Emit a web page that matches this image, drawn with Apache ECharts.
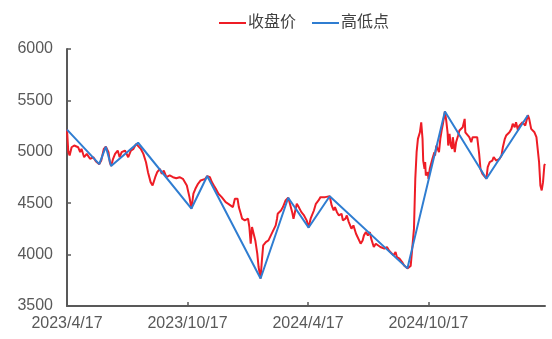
<!DOCTYPE html>
<html>
<head>
<meta charset="utf-8">
<script src="https://cdn.jsdelivr.net/npm/echarts@6/dist/echarts.min.js"></script>
<style>
html,body{margin:0;padding:0;background:#fff;}
#chart{width:552px;height:339px;}
</style>
</head>
<body>
<div id="chart"></div>
<script>
const closeDates = [
'2023-04-17','2023-04-19','2023-04-21','2023-04-24','2023-04-28','2023-05-04','2023-05-07','2023-05-09','2023-05-13','2023-05-17',
'2023-05-22','2023-05-27','2023-05-31','2023-06-05','2023-06-08','2023-06-12','2023-06-15','2023-06-19','2023-06-21','2023-06-23',
'2023-06-26','2023-06-29','2023-07-03','2023-07-06','2023-07-09','2023-07-14','2023-07-19','2023-07-23','2023-07-27','2023-07-31',
'2023-08-03','2023-08-07','2023-08-11','2023-08-15','2023-08-18','2023-08-22','2023-08-25','2023-08-29','2023-09-01','2023-09-05',
'2023-09-08','2023-09-11','2023-09-15','2023-09-20','2023-09-25','2023-09-30','2023-10-05','2023-10-10','2023-10-16','2023-10-20',
'2023-10-23','2023-10-26','2023-10-29','2023-10-31','2023-11-02','2023-11-06','2023-11-09','2023-11-13','2023-11-16','2023-11-20',
'2023-11-23','2023-11-26','2023-11-29','2023-12-03','2023-12-05','2023-12-08','2023-12-11','2023-12-14','2023-12-18','2023-12-21',
'2023-12-25','2023-12-28','2024-01-01','2024-01-03','2024-01-06','2024-01-08','2024-01-12','2024-01-14','2024-01-17','2024-01-19',
'2024-01-21','2024-01-23','2024-01-25','2024-01-28','2024-01-31','2024-02-02','2024-02-05','2024-02-07','2024-02-09','2024-02-13',
'2024-02-17','2024-02-20','2024-02-23','2024-02-26','2024-02-28','2024-03-01','2024-03-02','2024-03-05','2024-03-07','2024-03-10',
'2024-03-14','2024-03-18','2024-03-20','2024-03-24','2024-03-26','2024-03-31','2024-04-03','2024-04-07','2024-04-11','2024-04-15',
'2024-04-18','2024-04-21','2024-04-24','2024-04-26','2024-04-29','2024-05-03','2024-05-06','2024-05-09','2024-05-13','2024-05-16',
'2024-05-20','2024-05-23','2024-05-26','2024-05-28','2024-05-31','2024-06-03','2024-06-07','2024-06-09','2024-06-13','2024-06-15',
'2024-06-18','2024-06-22','2024-06-25','2024-06-29','2024-07-02','2024-07-06','2024-07-09','2024-07-11','2024-07-14','2024-07-17',
'2024-07-20','2024-07-22','2024-07-26','2024-07-29','2024-08-01','2024-08-05','2024-08-08','2024-08-11','2024-08-15','2024-08-18',
'2024-08-21','2024-08-25','2024-08-28','2024-08-30','2024-09-03','2024-09-07','2024-09-10','2024-09-13','2024-09-15','2024-09-18',
'2024-09-20','2024-09-23','2024-09-25','2024-09-27','2024-09-29','2024-10-01','2024-10-04','2024-10-06','2024-10-07','2024-10-08',
'2024-10-09','2024-10-11','2024-10-12','2024-10-13','2024-10-16','2024-10-17','2024-10-19','2024-10-21','2024-10-23','2024-10-26',
'2024-10-27','2024-10-29','2024-10-31','2024-11-02','2024-11-04','2024-11-06','2024-11-08','2024-11-11','2024-11-13','2024-11-15',
'2024-11-16','2024-11-18','2024-11-20','2024-11-22','2024-11-23','2024-11-26','2024-11-28','2024-12-01','2024-12-03','2024-12-06',
'2024-12-08','2024-12-11','2024-12-12','2024-12-15','2024-12-18','2024-12-21','2024-12-23','2024-12-26','2024-12-30','2025-01-02',
'2025-01-04','2025-01-07','2025-01-10','2025-01-13','2025-01-15','2025-01-18','2025-01-22','2025-01-24','2025-01-28','2025-01-30',
'2025-02-02','2025-02-05','2025-02-07','2025-02-10','2025-02-12','2025-02-15','2025-02-17','2025-02-20','2025-02-22','2025-02-25',
'2025-02-27','2025-03-02','2025-03-04','2025-03-07','2025-03-09','2025-03-13','2025-03-17','2025-03-19','2025-03-22','2025-03-24',
'2025-03-27','2025-03-30','2025-04-01','2025-04-03','2025-04-05','2025-04-07','2025-04-09','2025-04-11','2025-04-12'
];
const closeValues = [
5216,4996,4964,5044,5061,5044,4996,5029,4947,4980,
4932,4947,4905,4880,4915,5029,5050,4996,4899,4862,
4932,4980,5012,4947,4996,5012,4947,5012,5029,5077,
5088,5029,4980,4899,4802,4705,4672,4753,4802,4835,
4786,4818,4753,4770,4753,4743,4753,4737,4672,4559,
4448,4592,4640,4656,4689,4721,4705,4737,4764,4753,
4705,4672,4640,4592,4608,4559,4575,4510,4494,4480,
4462,4543,4543,4462,4397,4349,4333,4333,4349,4268,
4106,4268,4284,4138,4009,3879,3768,3944,4090,4122,
4138,4155,4219,4236,4284,4349,4397,4413,4429,4462,
4527,4553,4510,4413,4349,4494,4462,4413,4381,4333,
4263,4349,4333,4429,4494,4527,4559,4543,4559,4543,
4567,4478,4429,4462,4413,4381,4397,4333,4349,4381,
4316,4252,4284,4203,4219,4106,4138,4187,4219,4187,
4219,4155,4074,4106,4090,4074,4090,4058,4074,4041,
4025,3993,4025,3976,3960,3928,3895,3880,3866,3872,
3890,3895,4252,4737,4996,5126,5190,5287,5300,5126,
4915,4835,4900,4770,4802,4737,4835,4851,4932,4996,
4964,5061,5029,4996,5126,5207,5272,5392,5304,5190,
5061,5174,5061,5029,5142,4996,5093,5158,5207,5223,
5239,5320,5190,5174,5142,5093,5142,5126,5142,4980,
4835,4786,4770,4738,4851,4900,4915,4948,4915,4900,
4932,4964,5044,5126,5158,5142,5190,5223,5272,5239,
5287,5207,5255,5239,5287,5255,5356,5320,5223,5207,
5190,5142,5126,4899,4672,4624,4705,4867,4883
];
const pivotDates = ['2023-04-17','2023-06-05','2023-06-15','2023-06-23','2023-08-03','2023-10-23','2023-11-16','2024-02-05','2024-03-18','2024-04-18','2024-05-20','2024-09-15','2024-11-11','2025-01-13','2025-03-17'];
const pivotValues = [5216,4880,5050,4862,5088,4448,4764,3768,4553,4263,4567,3866,5392,4738,5356];
const xTickLabels = ['2023/4/17','2023/10/17','2024/4/17','2024/10/17'];
const yTicks = [3500,4000,4500,5000,5500,6000];
const xStart = '2023-04-17';
const xEnd = '2025-04-12';

function parseDate(s){
  const p = s.split(/[-\/]/).map(Number);
  return new Date(p[0], p[1]-1, p[2]).getTime();
}
function fmt(v){
  const d = new Date(v);
  return d.getFullYear() + '/' + (d.getMonth()+1) + '/' + d.getDate();
}
const closeData = closeDates.map((d,i)=>[parseDate(d), closeValues[i]]);
const pivotData = pivotDates.map((d,i)=>[parseDate(d), pivotValues[i]]);
const xTickValues = xTickLabels.map(parseDate);

const FONT = "'Liberation Sans', Arial, 'Noto Sans CJK SC', sans-serif";
const chart = echarts.init(document.getElementById('chart'), null, {renderer:'canvas'});
chart.setOption({
  animation:false,
  backgroundColor:'#fff',
  textStyle:{fontFamily:FONT},
  legend:{
    left:214, top:10,
    icon:'rect', itemWidth:27, itemHeight:2, itemGap:16,
    textStyle:{fontSize:16, color:'#404040', fontFamily:FONT, padding:[0,0,0,-3]},
    data:['收盘价','高低点']
  },
  grid:{left:67, right:7, top:49, bottom:33, containLabel:false},
  xAxis:{
    type:'value',
    min:parseDate(xStart), max:parseDate(xEnd),
    splitLine:{show:false},
    axisLine:{show:true, lineStyle:{color:'#595959', width:2}},
    axisTick:{show:true, inside:true, length:4, customValues:xTickValues, lineStyle:{color:'#595959', width:1.5}},
    axisLabel:{customValues:xTickValues, formatter:fmt, fontSize:16, color:'#595959', margin:10, fontFamily:FONT, showMinLabel:true, showMaxLabel:true, hideOverlap:false}
  },
  yAxis:{
    type:'value', min:yTicks[0], max:yTicks[yTicks.length-1], interval:500,
    splitLine:{show:false},
    axisLine:{show:true, lineStyle:{color:'#595959', width:2}},
    axisTick:{show:true, inside:true, length:4, lineStyle:{color:'#595959', width:1.5}},
    axisLabel:{fontSize:16, color:'#595959', margin:14, fontFamily:FONT, formatter:function(v){return String(v);}}
  },
  series:[
    {name:'收盘价', type:'line', data:closeData, symbol:'none', lineStyle:{color:'#ee1c25', width:2}, itemStyle:{color:'#ee1c25'}, z:2},
    {name:'高低点', type:'line', data:pivotData, symbol:'none', lineStyle:{color:'#2f7dd1', width:2}, itemStyle:{color:'#2f7dd1'}, z:3}
  ]
});
</script>
</body>
</html>
